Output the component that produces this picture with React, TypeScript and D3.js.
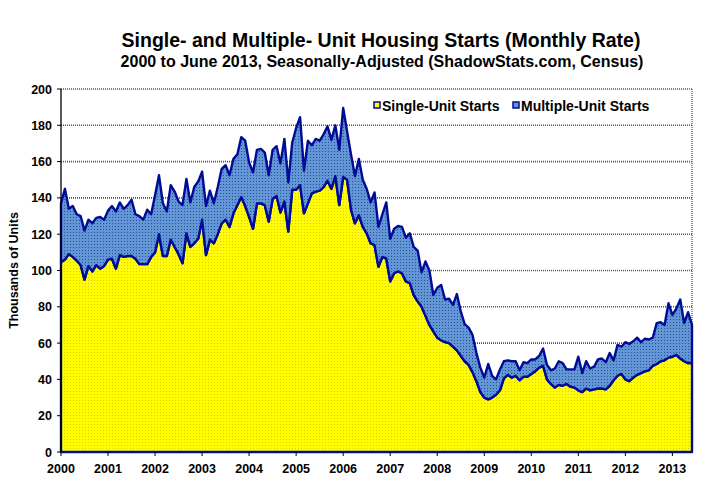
import React from "react";
import * as d3 from "d3";

// Monthly rate, thousands of units, Jan 2000 .. Jun 2013
const singleUnit: number[] = [
  104.5, 106, 109, 107.5, 105.5, 103, 95, 102.5, 99.5, 103, 101, 102.5,
  106, 106.5, 101, 108.5, 107.5, 108, 108, 106.5, 103.5, 103.5, 103.5, 107.5,
  110, 120, 108, 108, 117, 113, 109, 104, 120.5, 113, 115, 117.5,
  128, 108.5, 117, 115, 120, 126, 128, 124, 131.5, 136, 140.5, 135.5,
  129.5, 123, 137, 137, 136, 127, 139.5, 141, 132, 138, 121.5, 144.5,
  144.5, 147, 131.5, 137, 142.5, 143.5, 144, 146, 149.5, 145, 152, 136,
  151.5, 150, 133.5, 126, 130.5, 124, 120.5, 115, 114, 102, 107.5, 106.5,
  94, 98.5, 99.5, 98.5, 94, 93, 86.5, 83, 80, 75, 70, 66.5,
  63, 61.5, 60.5, 60, 58, 56, 53, 50, 48, 44, 39, 33,
  30, 29, 30, 31.5, 34, 40.5, 42.5, 41, 42, 39.5, 41.5, 41.5,
  43, 44.5, 46.5, 47.5, 40, 37.5, 35.5, 37, 36.5, 37.5, 36, 35.5,
  34, 33, 35, 34, 34.5, 35, 35, 34.5, 36.5, 39.5, 42, 43,
  40, 39, 41, 42.5, 43.5, 44.5, 45, 47.5, 48.5, 50, 50.5, 52,
  52.5, 53.5, 51.5, 50, 49, 49,
];

const multiUnit: number[] = [
  32.5, 39, 25, 28, 25.5, 27, 27, 25.5, 26.5, 26, 28.5, 25.5,
  27, 29, 31.5, 29, 26.5, 28, 31, 24.5, 26.5, 24.5, 30, 23.5,
  31.5, 32.5, 29, 24.5, 30, 30.5, 29, 32, 30, 24.5, 31, 31.5,
  26.5, 27, 27, 22, 26, 30, 30, 28.5, 30, 28, 33, 36,
  30, 31, 29.5, 30, 29, 25.5, 27, 27.5, 27, 34.5, 27, 26,
  34, 37.5, 23.5, 34.5, 26.5, 29, 27.5, 29, 30, 27, 28, 30.5,
  38, 26.5, 30.5, 26, 31, 26, 24.5, 22.5, 29, 22, 23.5, 31,
  23.5, 24.5, 25, 25.5, 24, 27.5, 26.5, 28, 19, 30, 30, 20,
  27.5, 30.5, 23.5, 24.5, 23, 31, 24.5, 20.5, 20.5, 20.5, 15.5, 13.5,
  11, 19.5, 12, 8.5, 11.5, 9.5, 8, 9, 8, 5.5, 8, 7.5,
  8, 6.5, 6.5, 9.5, 8, 7.5, 10.5, 13, 12.5, 8, 9.5, 10,
  18.5, 10.5, 15, 12, 12.5, 16, 16.5, 15, 18, 11, 17, 15,
  20.5, 20.5, 20, 20.5, 17, 18, 17, 15.5, 22.5, 21.5, 19.5, 30,
  23, 25.5, 32.5, 21, 28, 21,
];

const yearLabels: string[] = [
  "2000", "2001", "2002", "2003", "2004", "2005", "2006",
  "2007", "2008", "2009", "2010", "2011", "2012", "2013",
];
const yTicks: number[] = [0, 20, 40, 60, 80, 100, 120, 140, 160, 180, 200];

const seriesNames = ["Single-Unit Starts", "Multiple-Unit Starts"];

const W = 721;
const H = 500;
const M = { left: 61, right: 692, top: 89, bottom: 452 };
const FONT = "Arial, 'Liberation Sans', Helvetica, sans-serif";
const NAVY = "#000c96";

export default function App() {
  const rows = singleUnit.map((s, i) => ({ i, single: s, multi: multiUnit[i] }));
  const stack = d3.stack<any>().keys(["single", "multi"]);
  const layers = stack(rows);

  const x = d3.scaleLinear().domain([0, singleUnit.length - 1]).range([M.left, M.right]);
  const y = d3.scaleLinear().domain([0, 200]).range([M.bottom, M.top]);

  const area = d3
    .area<any>()
    .x((d) => x(d.data.i))
    .y0((d) => y(d[0]))
    .y1((d) => y(d[1]));

  const fills = ["url(#patYellow)", "url(#patBlue)"];

  return (
    <div style={{ position: "fixed", left: 0, top: 0 }}>
      <svg width={W} height={H} style={{ display: "block", background: "#fff" }}>
        <defs>
          <pattern id="patYellow" width="3" height="3" patternUnits="userSpaceOnUse">
            <rect width="3" height="3" fill="#ffff00" />
            <rect x="1" y="1" width="1" height="1" fill="#e8c800" />
          </pattern>
          <pattern id="patBlue" width="3" height="3" patternUnits="userSpaceOnUse">
            <rect width="3" height="3" fill="#6396d4" />
            <rect x="1" y="1" width="1" height="1" fill="#2a4c9c" />
          </pattern>
        </defs>
        <rect width={W} height={H} fill="#fff" />

        {/* Titles */}
        <text x={381} y={47} textAnchor="middle" fontFamily={FONT} fontWeight="bold" fontSize={19.5} fill="#000">
          Single- and Multiple- Unit Housing Starts (Monthly Rate)
        </text>
        <text x={382} y={67} textAnchor="middle" fontFamily={FONT} fontWeight="bold" fontSize={16} fill="#000">
          2000 to June 2013, Seasonally-Adjusted (ShadowStats.com, Census)
        </text>

        {/* Grid lines */}
        {yTicks.filter((t) => t > 0).map((t) => (
          <line key={"g" + t} x1={M.left} x2={M.right} y1={y(t)} y2={y(t)} stroke="#555" strokeWidth={1.6} strokeDasharray="1,1" />
        ))}
        <line x1={M.right} x2={M.right} y1={M.top} y2={M.bottom} stroke="#666" strokeWidth={1.4} strokeDasharray="1,1" />

        {/* Areas */}
        {layers.map((layer, k) => (
          <path key={"a" + k} d={area(layer) || ""} fill={fills[k]} stroke={NAVY} strokeWidth={2.4} strokeLinejoin="round" />
        ))}

        {/* Y axis */}
        <line x1={M.left} x2={M.left} y1={M.top} y2={M.bottom} stroke="#000" strokeWidth={1.3} />
        {yTicks.map((t) => (
          <g key={"yt" + t}>
            <line x1={M.left - 4} x2={M.left} y1={y(t)} y2={y(t)} stroke="#000" strokeWidth={1} />
            <text x={M.left - 9} y={y(t) + 4.5} textAnchor="end" fontFamily={FONT} fontWeight="bold" fontSize={12.5} fill="#000">
              {t}
            </text>
          </g>
        ))}
        <text
          transform={`translate(18,${(M.top + M.bottom) / 2}) rotate(-90)`}
          textAnchor="middle"
          fontFamily={FONT}
          fontWeight="bold"
          fontSize={12.5}
          fill="#000"
        >
          Thousands of Units
        </text>

        {/* X axis */}
        {yearLabels.map((lab, k) => {
          const xx = x(k * 12);
          return (
            <g key={"xt" + lab}>
              <line x1={xx} x2={xx} y1={M.bottom} y2={M.bottom + 4} stroke="#000" strokeWidth={1} />
              <text x={xx} y={M.bottom + 21} textAnchor="middle" fontFamily={FONT} fontWeight="bold" fontSize={12.5} fill="#000">
                {lab}
              </text>
            </g>
          );
        })}

        {/* Legend */}
        <rect x={374} y={102} width={6} height={6} fill="#ffff00" stroke={NAVY} strokeWidth={1.5} />
        <text x={382} y={110.5} fontFamily={FONT} fontWeight="bold" fontSize={14} fill="#000">
          {seriesNames[0]}
        </text>
        <rect x={513} y={102} width={6} height={6} fill="#6396d4" stroke={NAVY} strokeWidth={1.5} />
        <text x={521} y={110.5} fontFamily={FONT} fontWeight="bold" fontSize={14} fill="#000">
          {seriesNames[1]}
        </text>
      </svg>
    </div>
  );
}
